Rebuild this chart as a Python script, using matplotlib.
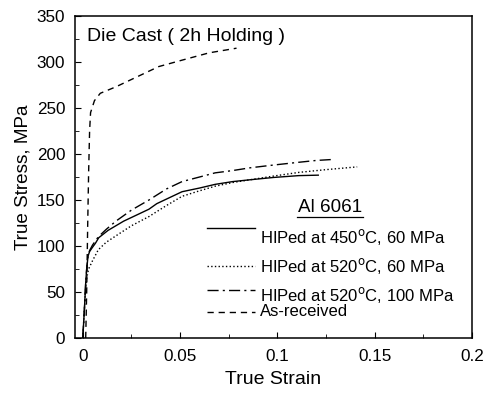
import matplotlib
matplotlib.use("Agg")
import matplotlib.pyplot as plt
from matplotlib.ticker import MultipleLocator, FuncFormatter

plt.rcParams['font.family'] = ['Liberation Sans', 'DejaVu Sans']

# ---- data ----
strain_450_60 = [0.0, 0.0008, 0.0015, 0.002, 0.0027, 0.0035, 0.0048, 0.0065, 0.0082, 0.010, 0.013,
                 0.017, 0.021, 0.025, 0.030, 0.034, 0.038, 0.043, 0.051, 0.060, 0.068, 0.077,
                 0.086, 0.098, 0.111, 0.121]
stress_450_60 = [0, 30, 60, 75, 89, 94, 98, 103, 109, 112, 117,
                 122, 127, 131, 136, 140, 146, 151, 159, 163, 167, 170,
                 172, 174.5, 176.5, 177]

strain_520_60 = [0.0, 0.0008, 0.0015, 0.002, 0.003, 0.005, 0.008, 0.012, 0.017, 0.025, 0.034,
                 0.043, 0.051, 0.060, 0.068, 0.077, 0.086, 0.098, 0.111, 0.125, 0.141]
stress_520_60 = [0, 30, 55, 65, 75, 84, 96, 104, 111, 122, 132,
                 144, 154, 160, 165, 169, 172, 176, 180, 183, 186]

strain_520_100 = [0.0, 0.0008, 0.0015, 0.002, 0.0027, 0.0035, 0.005, 0.008, 0.012, 0.017, 0.025,
                  0.034, 0.043, 0.051, 0.060, 0.068, 0.077, 0.086, 0.098, 0.111, 0.120, 0.128]
stress_520_100 = [0, 30, 60, 75, 89, 95, 101, 110, 118, 127, 139,
                  150, 162, 170, 175, 179.5, 182, 185, 188, 191, 193, 194]

strain_asrec = [0.0015, 0.002, 0.0025, 0.003, 0.0035, 0.004, 0.006, 0.009, 0.017, 0.027,
                0.039, 0.051, 0.065, 0.079]
stress_asrec = [0, 50, 120, 180, 225, 245, 258, 266, 273, 283,
                295, 302, 310, 315]

labels = ["HIPed at 450$^{\\mathrm{o}}$C, 60 MPa",
          "HIPed at 520$^{\\mathrm{o}}$C, 60 MPa",
          "HIPed at 520$^{\\mathrm{o}}$C, 100 MPa",
          "As-received"]
x_ticks = [0, 0.05, 0.1, 0.15, 0.2]
y_ticks = [0, 50, 100, 150, 200, 250, 300, 350]

# ---- figure ----
fig = plt.figure(figsize=(4.84, 3.94), dpi=100)
ax = fig.add_axes([75 / 484, 1 - 338 / 394, (472 - 75) / 484, (338 - 16) / 394])

series = [(strain_450_60, stress_450_60, '-'),
          (strain_520_60, stress_520_60, ':'),
          (strain_520_100, stress_520_100, (0, (8, 3, 1.5, 3))),
          (strain_asrec, stress_asrec, (0, (4.5, 3.5)))]
for (xs, ys, ls), lab in zip(series, labels):
    ax.plot(xs, ys, color='black', linestyle=ls, linewidth=1.0)

ax.set_xlim(-0.004, 0.2)
ax.set_ylim(0, 350)
ax.set_xticks(x_ticks)
ax.set_yticks(y_ticks)
ax.xaxis.set_minor_locator(MultipleLocator(0.025))
ax.yaxis.set_minor_locator(MultipleLocator(25))
ax.xaxis.set_major_formatter(FuncFormatter(lambda v, p: ('%g' % v)))
ax.tick_params(which='both', direction='in', top=False, right=False, labelsize=12.3)
ax.tick_params(axis='x', which='major', length=4, pad=8)
ax.tick_params(axis='y', which='major', length=4, pad=7)
ax.tick_params(which='minor', length=3)
for s in ax.spines.values():
    s.set_linewidth(1.1)

ax.set_xlabel('True Strain', fontsize=14, labelpad=5)
ax.set_ylabel('True Stress, MPa', fontsize=13.6, labelpad=4)

ax.text(0.002, 328, 'Die Cast ( 2h Holding )', fontsize=14, va='center', ha='left')

# legend-like block (manual, to match layout)
def ax_xy(px, py):
    return ((px - 75) / (472 - 75), (338 - py) / (338 - 16))

tx, ty = ax_xy(330, 207)
ax.text(tx, ty, 'Al 6061', transform=ax.transAxes, fontsize=13.6, ha='center', va='center')
ux0, uy = ax_xy(297, 217)
ux1, _ = ax_xy(363, 217)
ax.plot([ux0, ux1], [uy, uy], transform=ax.transAxes, color='black', linewidth=0.9)

line_rows = [228, 266, 290, 312]
text_rows = [237, 266, 295, 312]
for (xs, ys, ls), lab, ly, tyy in zip(series, labels, line_rows, text_rows):
    lx0, lyy = ax_xy(207, ly)
    lx1, _ = ax_xy(255, ly)
    ax.plot([lx0, lx1], [lyy, lyy], transform=ax.transAxes, color='black',
            linestyle=ls, linewidth=1.0)
    txx, tyy2 = ax_xy(260, tyy)
    ax.text(txx, tyy2, lab, transform=ax.transAxes, fontsize=12, ha='left', va='center')

fig.savefig('out.png', dpi=100)
